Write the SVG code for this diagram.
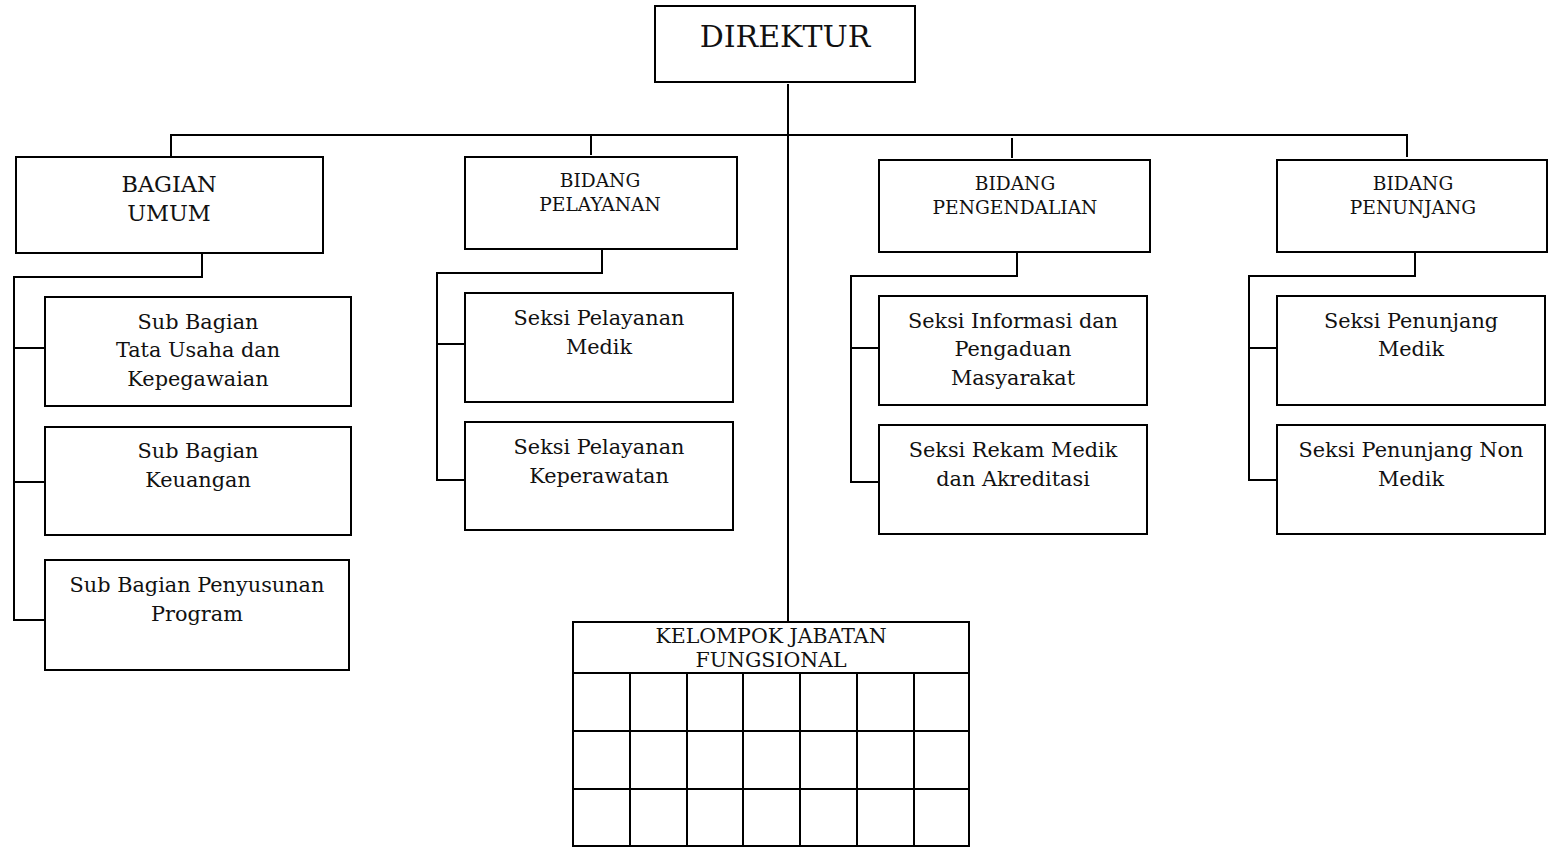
<svg xmlns="http://www.w3.org/2000/svg" width="1548" height="851" viewBox="0 0 1548 851">
<style>
rect{fill:#fff;stroke:#000;stroke-width:2}
.c line,.c polyline{stroke:#000;stroke-width:2;fill:none}
.g line{stroke:#000;stroke-width:2}
text{font-family:"DejaVu Serif","Liberation Serif",serif;fill:#111;text-anchor:middle}
.t1{font-size:30px}
.t2{font-size:22.4px}
.t3{font-size:18.6px}
.t4{font-size:20.8px}
.t5{font-size:20.5px}
</style>
<rect width="1548" height="851" style="stroke:none"/>
<g class="c" id="connectors">
<line x1="788" y1="84" x2="788" y2="621"/>
<line x1="171" y1="135" x2="1407" y2="135"/>
<line x1="171" y1="134" x2="171" y2="157"/>
<line x1="591" y1="135" x2="591" y2="155"/>
<line x1="1012" y1="138" x2="1012" y2="158"/>
<line x1="1407" y1="134" x2="1407" y2="157"/>
<polyline points="202,253 202,277 14,277 14,620 45,620"/>
<line x1="14" y1="348" x2="45" y2="348"/>
<line x1="14" y1="482" x2="45" y2="482"/>
<polyline points="602,250 602,273 437,273 437,480 465,480"/>
<line x1="437" y1="344" x2="465" y2="344"/>
<polyline points="1017,252 1017,276 851,276 851,482 879,482"/>
<line x1="851" y1="348" x2="879" y2="348"/>
<polyline points="1415,252 1415,276 1249,276 1249,480 1277,480"/>
<line x1="1249" y1="348" x2="1277" y2="348"/>
</g>
<g id="direktur"><rect x="655" y="6" width="260" height="76"/><text class="t1" x="785" y="47">DIREKTUR</text></g>
<g id="bagian-umum"><rect x="16" y="157" width="307" height="96"/><text class="t2" x="169" y="192">BAGIAN</text><text class="t2" x="169" y="221">UMUM</text></g>
<g id="bidang-pelayanan"><rect x="465" y="157" width="272" height="92"/><text class="t3" x="600" y="187">BIDANG</text><text class="t3" x="600" y="211">PELAYANAN</text></g>
<g id="bidang-pengendalian"><rect x="879" y="160" width="271" height="92"/><text class="t3" x="1015" y="190">BIDANG</text><text class="t3" x="1015" y="214">PENGENDALIAN</text></g>
<g id="bidang-penunjang"><rect x="1277" y="160" width="270" height="92"/><text class="t3" x="1413" y="190">BIDANG</text><text class="t3" x="1413" y="214">PENUNJANG</text></g>
<g id="sub-tu"><rect x="45" y="297" width="306" height="109"/><text class="t4" x="198" y="329">Sub Bagian</text><text class="t4" x="198" y="357">Tata Usaha dan</text><text class="t4" x="198" y="386">Kepegawaian</text></g>
<g id="sub-keu"><rect x="45" y="427" width="306" height="108"/><text class="t4" x="198" y="458">Sub Bagian</text><text class="t4" x="198" y="487">Keuangan</text></g>
<g id="sub-prog"><rect x="45" y="560" width="304" height="110"/><text class="t4" x="197" y="592">Sub Bagian Penyusunan</text><text class="t4" x="197" y="621">Program</text></g>
<g id="seksi-medik"><rect x="465" y="293" width="268" height="109"/><text class="t4" x="599" y="325">Seksi Pelayanan</text><text class="t4" x="599" y="354">Medik</text></g>
<g id="seksi-perawat"><rect x="465" y="422" width="268" height="108"/><text class="t4" x="599" y="454">Seksi Pelayanan</text><text class="t4" x="599" y="483">Keperawatan</text></g>
<g id="seksi-info"><rect x="879" y="296" width="268" height="109"/><text class="t4" x="1013" y="328">Seksi Informasi dan</text><text class="t4" x="1013" y="356">Pengaduan</text><text class="t4" x="1013" y="385">Masyarakat</text></g>
<g id="seksi-rekam"><rect x="879" y="425" width="268" height="109"/><text class="t4" x="1013" y="457">Seksi Rekam Medik</text><text class="t4" x="1013" y="486">dan Akreditasi</text></g>
<g id="seksi-pm"><rect x="1277" y="296" width="268" height="109"/><text class="t4" x="1411" y="328">Seksi Penunjang</text><text class="t4" x="1411" y="356">Medik</text></g>
<g id="seksi-pnm"><rect x="1277" y="425" width="268" height="109"/><text class="t4" x="1411" y="457">Seksi Penunjang Non</text><text class="t4" x="1411" y="486">Medik</text></g>
<g id="kelompok" class="g">
<rect x="573" y="622" width="396" height="224"/>
<text class="t5" x="771" y="643">KELOMPOK JABATAN</text><text class="t5" x="771" y="667">FUNGSIONAL</text>
<line x1="573" y1="673" x2="969" y2="673"/>
<line x1="573" y1="731" x2="969" y2="731"/>
<line x1="573" y1="789" x2="969" y2="789"/>
<line x1="630" y1="673" x2="630" y2="846"/>
<line x1="687" y1="673" x2="687" y2="846"/>
<line x1="743" y1="673" x2="743" y2="846"/>
<line x1="800" y1="673" x2="800" y2="846"/>
<line x1="857" y1="673" x2="857" y2="846"/>
<line x1="914" y1="673" x2="914" y2="846"/>
</g>
</svg>
